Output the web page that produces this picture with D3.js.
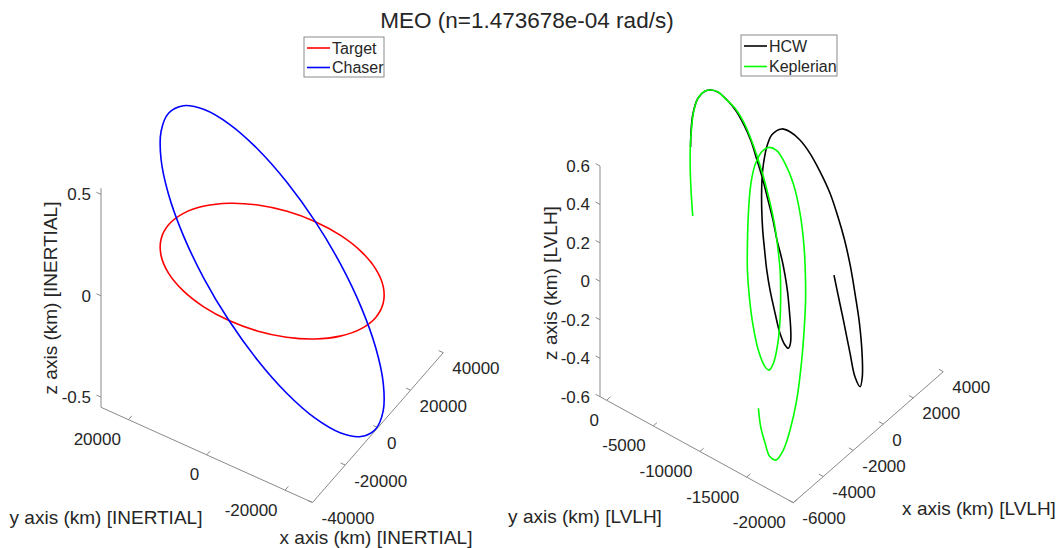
<!DOCTYPE html>
<html>
<head>
<meta charset="utf-8">
<script src="https://cdn.jsdelivr.net/npm/d3@7/dist/d3.min.js"></script>
<style>
  body { margin: 0; background: #fff; }
  text { font-family: "Liberation Sans", Arial, sans-serif; fill: #262626; }
</style>
</head>
<body>
<div id="chart"></div>
<script>
// ---- data (km) ----
// inertial frame, one revolution sampled every 15 deg
const orbitX = [26400, 25500, 22860, 18670, 13200, 6830, 0, -6830, -13200, -18670, -22860, -25500,
  -26400, -25500, -22860, -18670, -13200, -6830, 0, 6830, 13200, 18670, 22860, 25500]
const orbitY = [0, 6830, 13200, 18670, 22860, 25500, 26400, 25500, 22860, 18670, 13200, 6830,
  0, -6830, -13200, -18670, -22860, -25500, -26400, -25500, -22860, -18670, -13200, -6830]
const targetZ = [-0.013, -0.013, -0.013, -0.013, -0.013, -0.013, -0.013, -0.013, -0.013, -0.013, -0.013, -0.013,
  -0.013, -0.013, -0.013, -0.013, -0.013, -0.013, -0.013, -0.013, -0.013, -0.013, -0.013, -0.013]
const chaserZ = [-0.013, 0.129, 0.262, 0.376, 0.463, 0.518, 0.537, 0.518, 0.463, 0.376, 0.262, 0.129,
  -0.013, -0.155, -0.288, -0.402, -0.489, -0.544, -0.563, -0.544, -0.489, -0.402, -0.288, -0.155]

// LVLH frame, relative motion
const hcwX = [-590, -380, -130, 170, 430, 600, 750, 890, 1000, 1040, 1030, 960, 880, 780, 670, 540, 440, 340, 210, 20,
  -150, -310, -430, -480, -470, -360, -220, -70, 110, 290, 500, 730, 960, 1190, 1410, 1650, 1960, 2140, 2300, 2400,
  2450, 2450, 2380, 2280, 2120, 1900, 1690, 1410, 1140, 970, 950, 1100, 1310, 1460, 1600]
const hcwY = [-310, -30, 160, 110, -220, -590, -1090, -1830, -2630, -3420, -4180, -4930, -5700, -6400, -7110, -7750, -8450, -8930, -9410, -9920,
  -10330, -10560, -10520, -10240, -9690, -8990, -8220, -7630, -7110, -6620, -6180, -5800, -5520, -5370, -5330, -5440, -5970, -6570, -7380, -8290,
  -9290, -10360, -11320, -12190, -13080, -13970, -14730, -15460, -15920, -15960, -15440, -14670, -13640, -12850, -12150]
const hcwZ = [0.357, 0.424, 0.490, 0.549, 0.576, 0.580, 0.572, 0.541, 0.498, 0.443, 0.381, 0.307, 0.229, 0.150, 0.072, -0.006, -0.084, -0.143, -0.209, -0.287,
  -0.357, -0.408, -0.429, -0.416, -0.370, -0.292, -0.201, -0.123, -0.045, 0.033, 0.111, 0.189, 0.260, 0.318, 0.367, 0.406, 0.428, 0.417, 0.385, 0.333,
  0.261, 0.177, 0.085, -0.006, -0.110, -0.227, -0.331, -0.448, -0.540, -0.579, -0.540, -0.448, -0.322, -0.227, -0.143]

const kepX = [-2220, -1780, -1340, -980, -610, -260, 110, 420, 610, 740, 800, 870, 840, 730, 560, 330, 50, -260, -610, -980,
  -1340, -1910, -2480, -2890, -3130, -3170, -3030, -2680, -2270, -1820, -1450, -1070, -670, -260, 30, 330, 750, 1000, 1160, 1130,
  970, 590, 70, -510, -880, -1380, -2100, -2970, -3700, -4250, -4620, -4720, -4590, -4400, -4110]
const kepY = [-3160, -2270, -1470, -910, -450, -100, 20, -230, -630, -1120, -1760, -2720, -3670, -4560, -5550, -6630, -7720, -8750, -9670, -10520,
  -11160, -12010, -12630, -12870, -12790, -12420, -11480, -10320, -9300, -8370, -7770, -7200, -6650, -6150, -5890, -5730, -5780, -6080, -6730, -7660,
  -8800, -10140, -11400, -12490, -13090, -13770, -14640, -15500, -15960, -16120, -15940, -15440, -14720, -13940, -13230]
const kepZ = [0.185, 0.266, 0.345, 0.404, 0.461, 0.511, 0.555, 0.577, 0.580, 0.574, 0.554, 0.523, 0.481, 0.434, 0.376, 0.308, 0.235, 0.162, 0.089, 0.016,
  -0.047, -0.141, -0.225, -0.277, -0.298, -0.287, -0.235, -0.151, -0.068, 0.016, 0.078, 0.141, 0.204, 0.266, 0.307, 0.345, 0.387, 0.400, 0.390, 0.350,
  0.287, 0.193, 0.089, -0.016, -0.078, -0.157, -0.266, -0.392, -0.486, -0.549, -0.580, -0.570, -0.528, -0.476, -0.418]

const inertialXTicks = [-40000, -20000, 0, 20000, 40000]
const inertialYTicks = [-20000, 0, 20000]
const inertialZTicks = [-0.5, 0, 0.5]
const lvlhXTicks = [-6000, -4000, -2000, 0, 2000, 4000]
const lvlhYTicks = [-20000, -15000, -10000, -5000, 0]
const lvlhZTicks = [-0.6, -0.4, -0.2, 0, 0.2, 0.4, 0.6]

const titleText = "MEO (n=1.473678e-04 rad/s)"

// ---- layout ----
const width = 1064
const height = 548
const svg = d3.select("#chart").append("svg")
    .attr("width", width)
    .attr("height", height)

const zip3 = (xs, ys, zs) => xs.map((d, i) => [d, ys[i], zs[i]])

const panels = [
    {
        corner: [312.5, 502.5], vx: [130.8, -149.8], vy: [-211.5, -95.2], vz: [0, -219],
        xDomain: [-40000, 40000], yDomain: [-27000, 27000], zDomain: [-0.55, 0.53],
        xTicks: inertialXTicks, yTicks: inertialYTicks, zTicks: inertialZTicks,
        xLabel: { text: "x axis (km) [INERTIAL]", x: 376, y: 537 },
        yLabel: { text: "y axis (km) [INERTIAL]", x: 106, y: 517 },
        zLabel: { text: "z axis (km) [INERTIAL]", x: 50, y: 298 },
        series: [
            { name: "Target", pts: zip3(orbitX, orbitY, targetZ), color: "#ff0000", closed: true },
            { name: "Chaser", pts: zip3(orbitX, orbitY, chaserZ), color: "#0000ff", closed: true }
        ],
        legend: { x: 304, y: 37, w: 80, h: 40 }
    },
    {
        corner: [793.3, 502.7], vx: [150, -131], vy: [-193.3, -106], vz: [0, -230.7],
        xDomain: [-6000, 4000], yDomain: [-20000, 700], zDomain: [-0.6, 0.6],
        xTicks: lvlhXTicks, yTicks: lvlhYTicks, zTicks: lvlhZTicks,
        xLabel: { text: "x axis (km) [LVLH]", x: 979, y: 508 },
        yLabel: { text: "y axis (km) [LVLH]", x: 585, y: 516 },
        zLabel: { text: "z axis (km) [LVLH]", x: 550, y: 283 },
        series: [
            { name: "HCW", pts: zip3(hcwX, hcwY, hcwZ), color: "#000000", closed: false },
            { name: "Keplerian", pts: zip3(kepX, kepY, kepZ), color: "#00ff00", closed: false }
        ],
        legend: { x: 741, y: 35, w: 96, h: 41 }
    }
]

const tickFmt = d => String(d)
const unit = v => { const l = Math.hypot(v[0], v[1]); return [v[0] / l, v[1] / l] }
const axisColor = "#8a8a8a"

const drawPanel = (p) => {
    const xs = d3.scaleLinear().domain(p.xDomain).range([0, 1])
    const ys = d3.scaleLinear().domain(p.yDomain).range([0, 1])
    const zs = d3.scaleLinear().domain(p.zDomain).range([0, 1])
    const proj = (d) => {
        const fx = xs(d[0]), fy = ys(d[1]), fz = zs(d[2])
        return [p.corner[0] + fx * p.vx[0] + fy * p.vy[0] + fz * p.vz[0],
                p.corner[1] + fx * p.vx[1] + fy * p.vy[1] + fz * p.vz[1]]
    }
    const [x0, x1] = p.xDomain, [y0, y1] = p.yDomain, [z0, z1] = p.zDomain
    const g = svg.append("g")

    // axis lines
    const axes = [
        [[x0, y0, z0], [x1, y0, z0]],
        [[x0, y0, z0], [x0, y1, z0]],
        [[x0, y1, z0], [x0, y1, z1]]
    ]
    g.selectAll(".axis-line").data(axes).join("path")
        .attr("d", d => d3.line()(d.map(proj)))
        .attr("stroke", axisColor).attr("stroke-width", 1).attr("fill", "none")

    const ux = unit(p.vx), uy = unit(p.vy)
    const tickLen = 5
    const tickSeg = (pt, u) => { const a = proj(pt); return [a, [a[0] + u[0] * tickLen, a[1] + u[1] * tickLen]] }

    // x ticks
    const xg = g.append("g")
    xg.selectAll("path").data(p.xTicks).join("path")
        .attr("d", d => d3.line()(tickSeg([d, y0, z0], uy)))
        .attr("stroke", axisColor).attr("fill", "none")
    xg.selectAll("text").data(p.xTicks).join("text")
        .attr("x", d => proj([d, y0, z0])[0] + 9)
        .attr("y", d => proj([d, y0, z0])[1] + 15.5)
        .attr("dy", "0.35em").attr("font-size", 17)
        .attr("text-anchor", "start")
        .text(tickFmt)

    // y ticks
    const yg = g.append("g")
    yg.selectAll("path").data(p.yTicks).join("path")
        .attr("d", d => d3.line()(tickSeg([x0, d, z0], ux)))
        .attr("stroke", axisColor).attr("fill", "none")
    yg.selectAll("text").data(p.yTicks).join("text")
        .attr("x", d => proj([x0, d, z0])[0] - 7.5)
        .attr("y", d => proj([x0, d, z0])[1] + 19.5)
        .attr("dy", "0.35em").attr("font-size", 17)
        .attr("text-anchor", "end")
        .text(tickFmt)

    // z ticks
    const zg = g.append("g")
    zg.selectAll("path").data(p.zTicks).join("path")
        .attr("d", d => d3.line()(tickSeg([x0, y1, d], uy)))
        .attr("stroke", axisColor).attr("fill", "none")
    zg.selectAll("text").data(p.zTicks).join("text")
        .attr("x", d => proj([x0, y1, d])[0] - 10)
        .attr("y", d => proj([x0, y1, d])[1])
        .attr("dy", "0.35em").attr("font-size", 17)
        .attr("text-anchor", "end")
        .text(tickFmt)

    // axis labels
    g.append("text").attr("x", p.xLabel.x).attr("y", p.xLabel.y)
        .attr("dy", "0.35em").attr("text-anchor", "middle").attr("font-size", 19)
        .text(p.xLabel.text)
    g.append("text").attr("x", p.yLabel.x).attr("y", p.yLabel.y)
        .attr("dy", "0.35em").attr("text-anchor", "middle").attr("font-size", 19)
        .text(p.yLabel.text)
    g.append("text")
        .attr("transform", `translate(${p.zLabel.x},${p.zLabel.y}) rotate(-90)`)
        .attr("dy", "0.35em").attr("text-anchor", "middle").attr("font-size", 19)
        .text(p.zLabel.text)

    // curves
    p.series.forEach(s => {
        const line = d3.line().curve(s.closed ? d3.curveCatmullRomClosed.alpha(0.5) : d3.curveCatmullRom.alpha(0.5))
        g.append("path")
            .attr("d", line(s.pts.map(proj)))
            .attr("fill", "none").attr("stroke", s.color).attr("stroke-width", 1.6)
    })

    // legend
    const lg = g.append("g").attr("transform", `translate(${p.legend.x},${p.legend.y})`)
    lg.append("rect").attr("width", p.legend.w).attr("height", p.legend.h)
        .attr("fill", "#fff").attr("stroke", axisColor)
    const rowY = d3.scalePoint().domain(p.series.map(s => s.name)).range([11, p.legend.h - 9.5])
    p.series.forEach(s => {
        lg.append("line").attr("x1", 3).attr("x2", 26)
            .attr("y1", rowY(s.name)).attr("y2", rowY(s.name))
            .attr("stroke", s.color).attr("stroke-width", 1.6)
        lg.append("text").attr("x", 28).attr("y", rowY(s.name)).attr("dy", "0.35em")
            .attr("font-size", 16).text(s.name)
    })
}

panels.forEach(drawPanel)

svg.append("text")
    .attr("x", 527).attr("y", 20).attr("dy", "0.35em")
    .attr("text-anchor", "middle").attr("font-size", 22.5)
    .text(titleText)
</script>
</body>
</html>
